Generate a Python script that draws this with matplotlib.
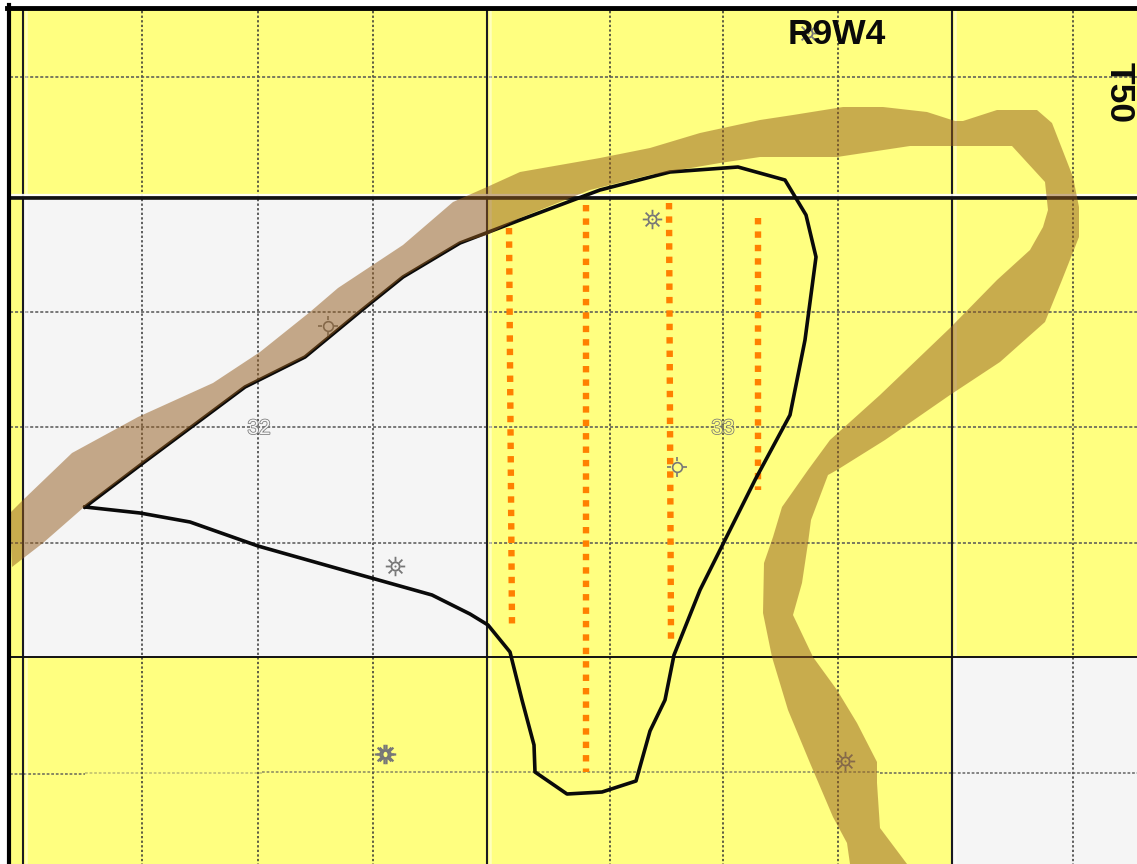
import numpy as np
import matplotlib
matplotlib.use('Agg')
import matplotlib.pyplot as plt
from matplotlib.patches import Polygon, Rectangle
from matplotlib.path import Path
import matplotlib.patheffects as pe

W, H = 1137, 864
YELLOW = '#ffff80'
GREY = '#f5f5f5'

grey_blocks = [(24, 198, 487, 657), (952, 657, 1137, 864)]
section_v = [23, 487, 952]
section_h = [198, 657]
grid_v = [142, 258, 373, 610, 723, 838, 1073]
grid_h = [77, 312, 427, 543]
grid_pale = [((10, 774), (85, 774), 0.9), ((85, 773), (262, 773), 0.4), ((262, 772), (880, 772), 0.7), ((880, 773), (1137, 773), 0.9)]

river_upper = [(10, 513), (23, 500), (72, 453), (138, 417), (213, 383), (260, 352), (310, 312), (338, 288), (403, 245),
               (453, 202), (487, 187), (520, 172), (600, 158), (650, 148), (700, 133), (760, 120), (793, 115),
               (843, 107), (883, 107), (927, 112), (955, 121), (963, 121), (997, 110), (1037, 110), (1052, 123),
               (1073, 177), (1079, 207), (1079, 237), (1062, 280), (1045, 322), (1000, 362), (950, 395),
               (885, 440), (837, 470), (828, 475), (811, 520), (808, 543), (802, 583), (793, 615), (813, 657),
               (837, 690), (857, 723), (877, 762), (877, 783), (880, 828), (907, 864)]
river_lower = [(850, 864), (847, 843), (833, 817), (810, 763), (788, 710), (772, 657), (763, 613), (764, 563),
               (773, 537), (782, 507), (808, 470), (830, 440), (880, 395), (950, 328), (997, 280), (1030, 250), (1043, 227),
               (1048, 210), (1045, 182), (1012, 146), (910, 146), (837, 157), (760, 157), (720, 163), (650, 175),
               (590, 190), (520, 218), (487, 235), (460, 243), (403, 277), (362, 310), (305, 357), (245, 387),
               (143, 463), (83, 508), (43, 543), (12, 567)]
pool = [(85, 507), (140, 513), (190, 522), (258, 546), (350, 572), (432, 595), (470, 614), (488, 625), (510, 652),
        (522, 700), (534, 745), (535, 772), (567, 794), (602, 792), (636, 781), (650, 731), (665, 700), (674, 655),
        (700, 590), (755, 480), (790, 415), (805, 340), (816, 257), (806, 215), (785, 180), (738, 167), (670, 172),
        (600, 190), (520, 220), (460, 243), (403, 277), (362, 310), (305, 357), (245, 387), (143, 463), (85, 507)]
wells_h = [((509, 228), (512, 625)), ((586, 205), (586, 772)), ((669, 203), (671, 640)), ((758, 218), (758, 490))]
sun_wells = [(395, 566), (652, 219), (845, 761), (808, 33)]
heavy_wells = [(385, 754)]
cross_wells = [(328, 326), (677, 467)]
labels = [('R9W4', 837, 35, 25.5, 0), ('T50', 1119, 93, 25.5, 270)]
sections = [('32', 259, 428.5, GREY), ('33', 723, 428.5, YELLOW)]


def rays(n, inner=0.5):
    verts, codes = [], []
    for a in np.arange(n) * 2 * np.pi / n:
        verts += [(inner * np.cos(a), inner * np.sin(a)), (np.cos(a), np.sin(a))]
        codes += [Path.MOVETO, Path.LINETO]
    return Path(verts, codes)


fig = plt.figure(figsize=(W / 100, H / 100), dpi=100)
ax = fig.add_axes([0, 0, 1, 1])
ax.set_xlim(0, W)
ax.set_ylim(H, 0)
ax.axis('off')
ax.add_patch(Rectangle((8, 8), W, H, fc=YELLOW, ec='none', zorder=0))
for x0, y0, x1, y1 in grey_blocks:
    ax.add_patch(Rectangle((x0, y0), x1 - x0, y1 - y0, fc=GREY, ec='none', zorder=1))
for x in grid_v:
    ax.plot([x, x], [11, H], color='#333333', lw=1.1, ls=(0, (1.5, 1.5)), zorder=3)
for y in grid_h:
    ax.plot([10, W], [y, y], color='#555555', lw=1.1, ls=(0, (2, 1.3)), zorder=3)
for a, b, alpha in grid_pale:
    ax.plot(*zip(a, b), color='#555555', alpha=alpha, lw=1.1, ls=(0, (1.8, 1.2)), zorder=3)
for x in section_v:
    ax.plot([x + 2.5, x + 2.5], [11, H], color='white', alpha=0.5, lw=1.8, zorder=3.5)
    ax.plot([x, x], [11, H], color='#1a1a22', lw=1.5, zorder=4)
ax.plot([10, W], [section_h[1]] * 2, color='#111111', lw=1.4, zorder=4)
ax.plot([10, W], [section_h[0] - 3.5] * 2, color='white', alpha=0.9, lw=1.6, zorder=4)
ax.plot([10, W], [section_h[0] - 1.5] * 2, color='#8888a0', lw=2, zorder=4)
ax.plot([10, W], [section_h[0]] * 2, color='#111111', lw=2.6, zorder=4)
for a, b in wells_h:
    ax.plot(*zip(a, b), color='#ff8000', lw=4.6, ls=(0, (1, 1.1)), zorder=5)
ax.plot(*zip(*pool), color='#0a0a0a', lw=2.6, solid_joinstyle='round', zorder=6)
for x, y in sun_wells:
    ax.plot(x, y, 'o', ms=6, mfc='none', mec='#777777', mew=1.3, zorder=7)
    ax.plot(x, y, marker=rays(8), ms=14, mfc='none', mec='#777777', mew=1.3, zorder=7)
    ax.plot(x, y, 'o', ms=1.5, mfc='#777777', mec='none', zorder=7)
for x, y in heavy_wells:
    for dx in (-1, 1):
        ax.plot(x + dx, y, 'o', ms=6, mfc='none', mec='#777777', mew=1.6, zorder=7)
        ax.plot(x + dx, y, marker=rays(8), ms=14, mfc='none', mec='#777777', mew=1.6, zorder=7)
for x, y in cross_wells:
    ax.plot(x, y, 'o', ms=7, mfc=YELLOW if x > 487 else GREY, mec='#777777', mew=1.2, zorder=7)
    ax.plot(x, y, marker=rays(4, 0.55), ms=15, mfc='none', mec='#777777', mew=1.2, zorder=7)
for s, x, y, bg in sections:
    ax.text(x, y, s, fontsize=15, color=bg, ha='center', va='center', family='Liberation Sans', zorder=7,
            path_effects=[pe.Stroke(linewidth=1.1, foreground='#777777'), pe.Normal()])
ax.add_patch(Polygon(river_upper + river_lower, fc='#935b1c', alpha=0.5, ec='none', zorder=7.5))
for s, x, y, fs, rot in labels:
    ax.text(x, y, s, fontsize=fs, rotation=rot, color='#0a0a0a', ha='center', va='center', fontweight='bold',
            family='Liberation Sans', zorder=8)
# outer frame
ax.plot([9, 9], [5, H], color='black', lw=3, zorder=9)
ax.plot([7, W], [7.5, 7.5], color='black', lw=3.5, zorder=9)
fig.savefig('out.png', dpi=100)
